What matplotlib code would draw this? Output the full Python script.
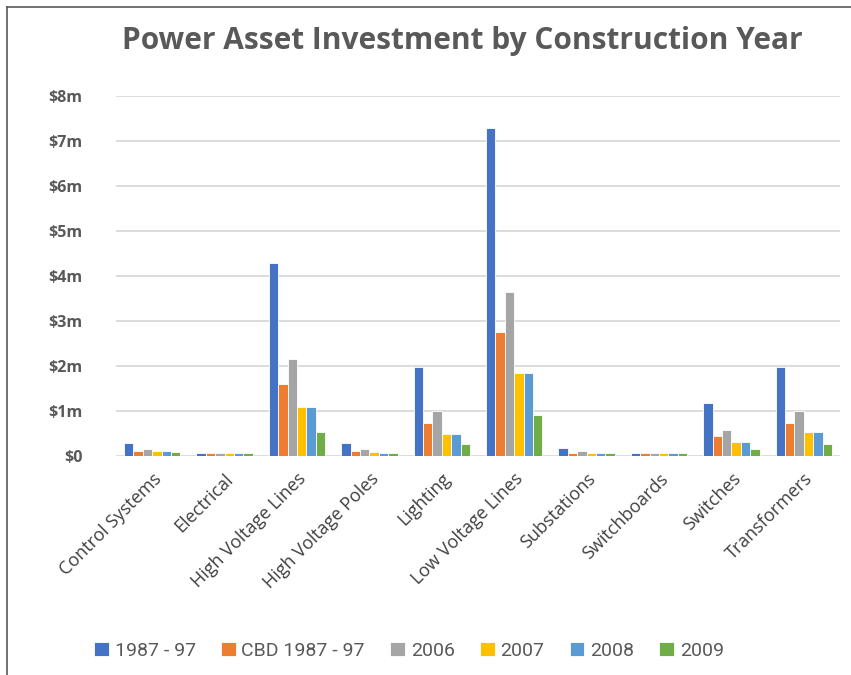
import numpy as np
import matplotlib
matplotlib.use("Agg")
import matplotlib.pyplot as plt
from matplotlib.lines import Line2D
from matplotlib.ticker import FuncFormatter

categories = ["Control Systems", "Electrical", "High Voltage Lines", "High Voltage Poles",
              "Lighting", "Low Voltage Lines", "Substations", "Switchboards",
              "Switches", "Transformers"]
series_names = ["1987 - 97", "CBD 1987 - 97", "2006", "2007", "2008", "2009"]

# values in $m
v_1987_97 = [0.28, 0.07, 4.30, 0.28, 1.98, 7.29, 0.18, 0.07, 1.17, 1.98]
v_cbd_1987_97 = [0.12, 0.07, 1.60, 0.12, 0.74, 2.76, 0.07, 0.07, 0.44, 0.74]
v_2006 = [0.16, 0.07, 2.15, 0.16, 1.00, 3.65, 0.11, 0.07, 0.58, 1.00]
v_2007 = [0.12, 0.07, 1.08, 0.08, 0.49, 1.85, 0.07, 0.07, 0.32, 0.53]
v_2008 = [0.12, 0.07, 1.08, 0.07, 0.49, 1.85, 0.07, 0.07, 0.32, 0.53]
v_2009 = [0.08, 0.07, 0.54, 0.07, 0.27, 0.92, 0.07, 0.07, 0.15, 0.27]
yticks = [0, 1, 2, 3, 4, 5, 6, 7, 8]

colours = ["#4472C4", "#ED7D31", "#A5A5A5", "#FFC000", "#5B9BD5", "#70AD47"]
all_values = [v_1987_97, v_cbd_1987_97, v_2006, v_2007, v_2008, v_2009]

fig = plt.figure(figsize=(8.51, 6.75), dpi=100)
ax = fig.add_axes([116 / 851, 1 - 456 / 675, 724 / 851, 360 / 675])

x = np.arange(len(categories))
w = 0.13
handles = []
for i, (name, vals, col) in enumerate(zip(series_names, all_values, colours)):
    offs = (i - 2.5) * w
    b = ax.bar(x + offs, vals, width=w, color=col, edgecolor="white", linewidth=0.6,
               label=name, zorder=3)
    handles.append(b)

ax.set_xlim(-0.5, len(categories) - 0.5)
ax.set_ylim(0, 8)
ax.set_yticks(yticks)
ax.yaxis.set_major_formatter(FuncFormatter(lambda v, p: "$0" if v == 0 else "$%dm" % v))
ax.grid(axis="y", color="#D9D9D9", linewidth=1.3, zorder=0)
for s in ax.spines.values():
    s.set_visible(False)
ax.tick_params(axis="both", length=0)
ax.tick_params(axis="y", pad=24)
for lab in ax.get_yticklabels():
    lab.set_fontfamily("Open Sans")
    lab.set_fontweight("bold")
    lab.set_fontsize(11.5)
    lab.set_color("#595959")

ax.set_xticks(x)
ax.set_xticklabels(categories, rotation=45, ha="right", va="top", rotation_mode="anchor",
                   fontsize=13, color="#404040", family="Open Sans")
ax.tick_params(axis="x", pad=10)

fig.text(462 / 851, 1 - 41 / 675, "Power Asset Investment by Construction Year",
         ha="center", va="center", fontsize=21.5, fontweight="bold",
         color="#595959", family="Open Sans")

leg = fig.legend(handles=handles, labels=series_names, loc="center",
                 bbox_to_anchor=(409 / 851, 1 - 651 / 675), ncol=6, frameon=False,
                 handlelength=0.75, handleheight=0.75, handletextpad=0.3,
                 columnspacing=1.3, prop={"family": "Roboto", "size": 14})
for t in leg.get_texts():
    t.set_color("#595959")

# frame of the screenshot
fig.add_artist(Line2D([7 / 851, 7 / 851], [0, 1 - 7 / 675], transform=fig.transFigure,
                      color="#595959", linewidth=1.2))
fig.add_artist(Line2D([7 / 851, 1], [1 - 7 / 675, 1 - 7 / 675], transform=fig.transFigure,
                      color="#595959", linewidth=1.2))

fig.savefig("out.png", dpi=100)
